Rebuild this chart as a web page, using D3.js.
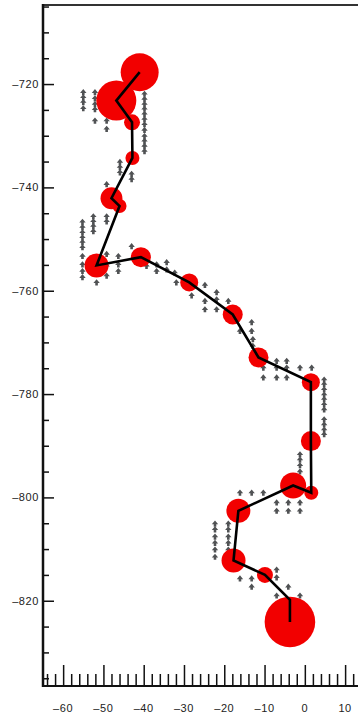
<!DOCTYPE html>
<html>
<head>
<meta charset="utf-8">
<script src="https://cdn.jsdelivr.net/npm/d3@7"></script>
<style>
  html, body { margin: 0; padding: 0; background: #fff; }
  svg { display: block; }
  .lbl { font-family: "Liberation Sans", Arial, Helvetica, sans-serif; font-size: 11px; fill: #222; letter-spacing: 0.6px; }
</style>
</head>
<body>
<svg id="chart" width="358" height="713"></svg>
<script>
// Track vertices (x, y) and the weight shown by each red disc
const trackX = [-41.0, -46.8, -42.9, -42.8, -48.0, -46.0, -51.7, -40.7, -28.7, -17.9,
                -11.5, 1.5, 1.5, 1.6, -2.9, -16.5, -17.7, -9.9, -3.7, -3.7];
const trackY = [-717.7, -723.2, -727.4, -734.3, -742.1, -743.6, -755.1, -753.5, -758.4, -764.6,
                -772.9, -777.7, -789.1, -799.1, -797.7, -802.6, -812.2, -815.0, -819.8, -824.1];
const weight = [3.6, 4.0, 0.64, 0.49, 1.2, 0.49, 1.44, 1.0, 0.81, 1.0,
                1.0, 0.81, 1.0, 0.49, 1.69, 1.44, 1.44, 0.64, 0, 6.4];

// Small grey arrow marks scattered along the track
const markX = [
  -55.0, -55.0, -55.0, -55.0,
  -52.1, -52.1, -52.1, -52.1, -52.1,
  -49.2, -49.2,
  -39.8, -39.8, -39.8, -39.8, -39.8, -39.8, -39.8, -39.8, -39.8, -39.8, -39.8, -39.8,
  -45.9, -45.9, -45.9, -43.0, -43.0, -49.2,
  -55.2, -55.2, -55.2, -55.2, -55.2, -55.2, -55.2, -55.2, -55.2, -55.2,
  -52.5, -52.5, -52.5, -52.5,
  -49.2, -49.2,
  -51.7,
  -49.2, -49.2, -49.2,
  -46.3, -46.3, -46.3,
  -43.0,
  -39.3, -39.3,
  -36.8, -36.8,
  -34.3, -34.3,
  -32.3, -31.9,
  -24.8, -28.1,
  -21.9, -21.9, -21.9,
  -24.8, -24.8,
  -19.0,
  -13.2, -13.2, -12.9, -12.9,
  -16.1,
  -10.3, -10.3,
  -7.0, -7.0, -7.0,
  -4.5, -4.5, -4.5,
  -1.2, 1.7,
  4.8, 4.8, 4.8, 4.8, 4.8, 4.8, 4.8, 4.8, 4.8, 4.8, 4.8,
  -1.2, -1.2, -1.2, -1.2,
  -16.1, -13.2, -10.3,
  -7.0, -7.0, -4.1, -4.1, -1.2, -1.2,
  -22.3, -22.3, -22.3, -22.3, -22.3, -22.3,
  -19.0, -19.0, -19.0, -19.0, -19.0,
  -16.1, -13.2, -13.2, -7.0, -7.0, -7.0, -4.1, -1.2
];
const markY = [
  -721.6, -722.6, -723.5, -724.7,
  -721.6, -722.8, -723.9, -724.9, -727.1,
  -727.1, -728.7,
  -721.9, -722.9, -723.9, -724.8, -725.8, -726.8, -727.8, -728.9, -730.1, -731.0, -732.0, -733.0,
  -735.1, -736.1, -737.1, -737.4, -738.4, -739.4,
  -746.7, -747.7, -748.7, -749.7, -750.6, -751.6, -753.3, -754.9, -756.2, -757.4,
  -745.6, -746.6, -747.5, -748.5,
  -745.6, -746.6,
  -758.4,
  -752.9, -755.2, -757.1,
  -753.3, -754.9, -756.2,
  -751.4,
  -752.9, -755.2,
  -754.9, -756.2,
  -754.5, -755.9,
  -756.5, -758.4,
  -758.9, -760.9,
  -760.3, -761.7, -763.6,
  -762.0, -763.6,
  -762.0,
  -766.1, -767.8, -769.4, -770.7,
  -767.8,
  -774.9, -776.8,
  -773.6, -774.9, -776.8,
  -773.6, -774.9, -776.8,
  -774.9, -774.9,
  -777.2, -778.1, -779.1, -780.1, -781.0, -782.0, -783.0, -784.9, -785.9, -786.9, -787.8,
  -791.7, -792.7, -793.8, -795.0,
  -799.1, -799.1, -799.1,
  -801.0, -802.6, -801.0, -802.6, -801.0, -802.6,
  -805.1, -806.2, -807.6, -808.8, -810.1, -811.5,
  -805.1, -806.2, -807.6, -808.8, -810.1,
  -815.7, -815.7, -817.3, -814.0, -815.5, -819.0, -817.3, -819.0
];

// Axis ticks
const xMajorTicks = [-60, -50, -40, -30, -20, -10, 0, 10];
const xMinorTicks = [-64, -62, -58, -56, -54, -52, -48, -46, -44, -42, -38, -36, -34, -32,
                     -28, -26, -24, -22, -18, -16, -14, -12, -8, -6, -4, -2, 2, 4, 6, 8, 12];
const yMajorTicks = [-720, -740, -760, -780, -800, -820];
const yMinorTicks = [-705, -710, -715, -725, -730, -735, -745, -750, -755, -765, -770, -775,
                     -785, -790, -795, -805, -810, -815, -825, -830, -835];

const svg = d3.select("#chart");
const plotLeft = 43, plotTop = 5, plotRight = 358, plotBottom = 686;

const x = d3.scaleLinear().domain([-65, 13.2]).range([plotLeft, plotRight]);
const y = d3.scaleLinear().domain([-704.7, -836.5]).range([plotTop, plotBottom]);
const r = d3.scaleSqrt().domain([0, 1]).range([0, 10]);

const points = trackX.map((v, i) => ({ x: v, y: trackY[i], w: weight[i] }));
const marks = markX.map((v, i) => ({ x: v, y: markY[i] }));

// grey arrow marks
const arrow = "M0,-3.2 L3.2,0.6 L1.3,0.6 L1.3,3 L-1.3,3 L-1.3,0.6 L-3.2,0.6 Z";
svg.append("g")
  .selectAll("path")
  .data(marks)
  .join("path")
  .attr("d", arrow)
  .attr("transform", d => `translate(${x(d.x)},${y(d.y)})`)
  .attr("fill", "#505254");

// red discs
svg.append("g")
  .selectAll("circle")
  .data(points.filter(d => d.w > 0))
  .join("circle")
  .attr("cx", d => x(d.x))
  .attr("cy", d => y(d.y))
  .attr("r", d => r(d.w))
  .attr("fill", "#f20000");

// track line
svg.append("path")
  .datum(points)
  .attr("fill", "none")
  .attr("stroke", "#000")
  .attr("stroke-width", 2.6)
  .attr("stroke-linejoin", "miter")
  .attr("d", d3.line().x(d => x(d.x)).y(d => y(d.y)));

// frame
svg.append("line").attr("x1", plotLeft).attr("x2", plotRight).attr("y1", plotTop).attr("y2", plotTop)
  .attr("stroke", "#333").attr("stroke-width", 2);

// y axis (ticks inward)
const yAxisMajor = d3.axisRight(y).tickValues(yMajorTicks).tickSize(11).tickFormat("");
const yAxisMinor = d3.axisRight(y).tickValues(yMinorTicks).tickSize(6).tickFormat("");
const gy = svg.append("g").attr("transform", `translate(${plotLeft},0)`);
gy.append("g").call(yAxisMajor);
gy.append("g").call(yAxisMinor);
gy.selectAll(".domain").remove();
gy.selectAll("line").attr("stroke", "#111").attr("stroke-width", 1.5);
svg.append("line").attr("x1", plotLeft).attr("x2", plotLeft).attr("y1", plotTop - 1).attr("y2", plotBottom + 1)
  .attr("stroke", "#111").attr("stroke-width", 2.5);
svg.append("g").selectAll("text")
  .data(yMajorTicks)
  .join("text")
  .attr("class", "lbl")
  .attr("x", 39)
  .attr("y", d => y(d))
  .attr("dy", "0.36em")
  .attr("text-anchor", "end")
  .text(d => "\u2013" + Math.abs(d));

// x axis (ticks inward)
const xAxisMajor = d3.axisTop(x).tickValues(xMajorTicks).tickSize(21).tickFormat("");
const xAxisMinor = d3.axisTop(x).tickValues(xMinorTicks).tickSize(12).tickFormat("");
const gx = svg.append("g").attr("transform", `translate(0,${plotBottom})`);
gx.append("g").call(xAxisMajor);
gx.append("g").call(xAxisMinor);
gx.selectAll(".domain").remove();
gx.selectAll("line").attr("stroke", "#111").attr("stroke-width", 1.5);
svg.append("line").attr("x1", plotLeft - 1).attr("x2", plotRight).attr("y1", plotBottom).attr("y2", plotBottom)
  .attr("stroke", "#111").attr("stroke-width", 2);
svg.append("g").selectAll("text")
  .data(xMajorTicks)
  .join("text")
  .attr("class", "lbl")
  .attr("x", d => x(d))
  .attr("y", 712)
  .attr("text-anchor", "middle")
  .text(d => d < 0 ? "\u2013" + Math.abs(d) : String(d));
</script>
</body>
</html>
